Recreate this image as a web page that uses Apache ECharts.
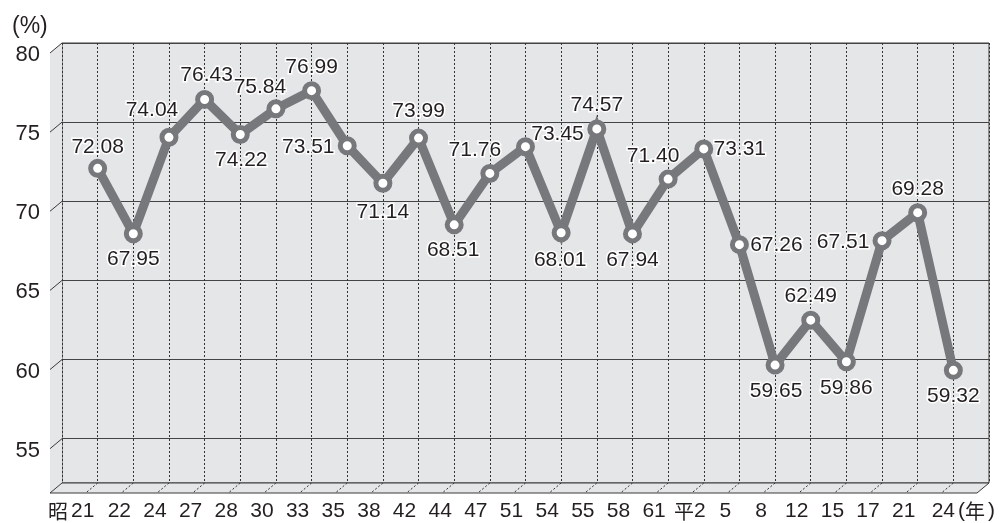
<!DOCTYPE html>
<html>
<head>
<meta charset="utf-8">
<script src="https://cdn.jsdelivr.net/npm/echarts@6/dist/echarts.min.js"></script>
<style>
html,body{margin:0;padding:0;background:#fff;}
#chart{width:1000px;height:523px;}
</style>
</head>
<body>
<div id="chart"></div>
<script>
// ---- data ----
const categories = ['昭21','22','24','27','28','30','33','35','38','42','44','47','51','54','55','58','61','平2','5','8','12','15','17','21','24'];
const rates = [72.08,67.95,74.04,76.43,74.22,75.84,76.99,73.51,71.14,73.99,68.51,71.76,73.45,68.01,74.57,67.94,71.40,73.31,67.26,59.65,62.49,59.86,67.51,69.28,59.32];
const yTicks = [55,60,65,70,75,80];
const yUnit = '(%)';
const xUnit = '(年)';

// ---- layout / style ----
const labelOffsets = [
  [0,-21],[0,25],[-17,-27],[2,-24],[1,26],[-16,-22],[0,-23],[-39,1],[0,29],[0,-27],
  [-1,25],[-15,-23],[32,-12],[-1,27],[0,-24],[0,26],[-15,-23],[36,0],[37,1],[1,26],
  [0,-24],[0,26],[-39,2],[0,-23],[0,26]
];
const Y_MIN = 52.2, Y_MAX = 80;
const DX = -12, DY = 10;
const FONT = "'Liberation Sans',Arial,'Noto Sans CJK JP',sans-serif";
const CJK = "'Noto Sans CJK JP',sans-serif";
const TXT = '#231f20';
const LINE_COLOR = '#77787b';
const WALL = '#e5e6e8';
const EDGE = '#3a3a3a';

const chart = echarts.init(document.getElementById('chart'), null, {renderer:'canvas'});

const lineData = rates.map((v,i)=>({
  value:[i, v],
  label:{offset: labelOffsets[i]}
}));

function xLabel(v){
  if (v < 0 || v > categories.length-1 || Math.round(v)!==v) return '';
  const c = categories[v];
  if (v === 0) return '{p|' + c[0] + '}{n|' + c.slice(1) + '}{g|}';
  if (v === categories.length-1) return '{g2|}{n|' + c + '}{q|(}{k|' + xUnit.slice(1,-1) + '}{q|)}';
  if (/^[^0-9]/.test(c)) return '{k|' + c[0] + '}{n|' + c.slice(1) + '}';
  return '{n|' + c + '}';
}

const option = {
  animation:false,
  backgroundColor:'#fff',
  title:{
    text: yUnit, left: 7, top: 10,
    textStyle:{fontFamily:FONT, fontSize:23, fontWeight:'normal', color:TXT}
  },
  grid:{
    left:62, right:11, top:43, bottom:40,
    show:true, backgroundColor:WALL, borderColor:EDGE, borderWidth:1
  },
  xAxis:{
    type:'value', min:-1, max:categories.length, interval:1,
    axisLine:{show:false}, axisTick:{show:false},
    splitLine:{show:true, lineStyle:{color:'#333', width:1, type:[2,2]}},
    axisLabel:{
      margin:18, padding:[0,28,0,0],
      formatter:xLabel,
      color:TXT, fontFamily:FONT, fontSize:20,
      rich:{
        n:{fontFamily:FONT, fontSize:21, color:TXT},
        k:{fontFamily:CJK, fontSize:20, color:TXT},
        p:{fontFamily:CJK, fontSize:20, color:TXT, padding:[0,3,0,0]},
        g:{width:25},
        g2:{width:48},
        q:{fontFamily:FONT, fontSize:21, color:TXT, padding:[0,0,0,3]}
      }
    }
  },
  yAxis:{
    type:'value', min:Y_MIN, max:Y_MAX,
    axisLine:{show:false}, axisTick:{show:false},
    splitLine:{show:true, lineStyle:{color:'#444', width:1}},
    axisLabel:{
      margin:22, verticalAlign:'top', lineHeight:24,
      formatter:function(v){ return yTicks.indexOf(v) >= 0 ? String(v) : ''; },
      color:TXT, fontFamily:FONT, fontSize:22
    }
  },
  series:[
    {
      type:'custom',
      z:1, silent:true,
      data:[[0,0]],
      renderItem:function(params, api){
        const tl = api.coord([-1, Y_MAX]);
        const br = api.coord([categories.length, Y_MIN]);
        const L = tl[0], T = tl[1], R = br[0], B = br[1];
        const solid = {stroke:EDGE, lineWidth:1, fill:null};
        const dotted = {stroke:'#333', lineWidth:1, lineDash:[2,2], fill:null};
        const ch = [];
        ch.push({type:'polygon', shape:{points:[[L,T],[L,B],[L+DX,B+DY],[L+DX,T+DY]]}, style:{fill:WALL}});
        ch.push({type:'polygon', shape:{points:[[L,B],[R,B],[R+DX,B+DY],[L+DX,B+DY]]}, style:{fill:WALL}});
        ch.push({type:'line', shape:{x1:L+DX,y1:B+DY,x2:R+DX,y2:B+DY}, style:solid});
        ch.push({type:'line', shape:{x1:L,y1:B,x2:L+DX,y2:B+DY}, style:solid});
        ch.push({type:'line', shape:{x1:R,y1:B,x2:R+DX,y2:B+DY}, style:solid});
        ch.push({type:'line', shape:{x1:L,y1:B,x2:R,y2:B}, style:solid});
        yTicks.forEach(t=>{
          const y = api.coord([-1,t])[1];
          ch.push({type:'line', shape:{x1:L,y1:y,x2:L+DX,y2:y+DY}, style:solid});
        });
        categories.forEach((c,i)=>{
          const x = api.coord([i,Y_MIN])[0];
          ch.push({type:'line', shape:{x1:x,y1:B,x2:x+DX,y2:B+DY}, style:dotted});
        });
        return {type:'group', children:ch};
      }
    },
    {
      type:'line',
      z:3,
      data:lineData,
      lineStyle:{color:LINE_COLOR, width:9, join:'miter'},
      symbol:'circle', symbolSize:14,
      itemStyle:{color:'#fff', borderColor:LINE_COLOR, borderWidth:5},
      label:{
        show:true, position:'inside',
        formatter:function(p){ return p.value[1].toFixed(2); },
        fontFamily:FONT, fontSize:21, color:TXT,
        textBorderColor:'#fff', textBorderWidth:3
      }
    }
  ]
};
chart.setOption(option);
</script>
</body>
</html>
